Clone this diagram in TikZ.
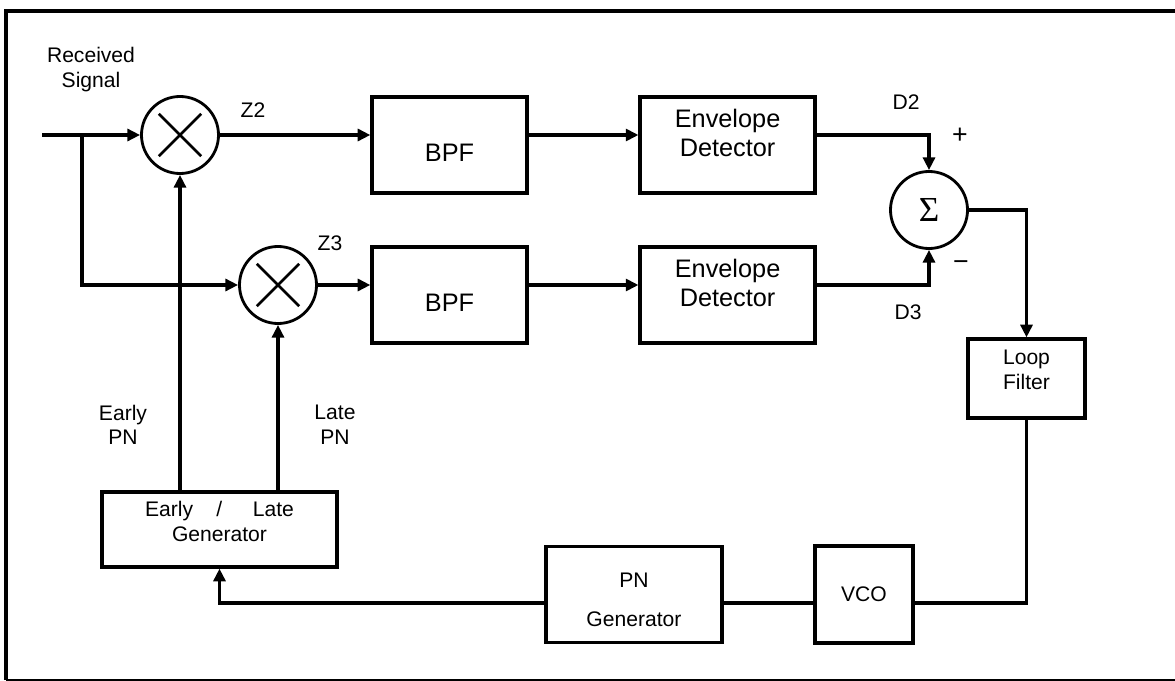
\documentclass[tikz,border=0pt]{standalone}
\usepackage{fontspec}
\setmainfont{Liberation Sans}
\newfontfamily\sigmafont{Liberation Serif}
\usepackage{tikz}
\usetikzlibrary{arrows.meta,shapes,positioning}
\tikzstyle{arrow} = [line width=2.2pt,->,>={Triangle[length=9pt,width=8.5pt]}]
\tikzstyle{wire} = [line width=2.2pt]
\tikzstyle{block} = [rectangle, draw, line width=2.3pt, align=center, font=\fontsize{15}{18}\selectfont]
\tikzstyle{bigblock} = [block, minimum width=3.875cm, minimum height=2.4cm, font=\fontsize{18}{21}\selectfont]
\tikzstyle{summer} = [circle, draw, line width=2pt, minimum size=1.925cm, inner sep=0pt]
\tikzstyle{mixer} = [summer, path picture={
  \draw[line width=1.8pt] (path picture bounding box.center) ++(-0.53cm,-0.53cm) -- ++(1.06cm,1.06cm)
    (path picture bounding box.center) ++(-0.53cm,0.53cm) -- ++(1.06cm,-1.06cm);}]
\tikzstyle{lbl} = [align=center, inner sep=0pt, font=\fontsize{15}{17.5}\selectfont]
\tikzstyle{sign} = [inner sep=0pt, font=\fontsize{19}{20}\selectfont]

\begin{document}
\begin{tikzpicture}[x=0.025cm, y=-0.025cm]
\useasboundingbox (0,0) rectangle (1175,681);
% frame
\draw[line width=3.5pt] (6,680) -- (6,11) -- (1175,11);
\draw[line width=1.5pt] (6,680) -- (1175,680);

% correlator arms
\node (m1) [mixer] at (180,135) {};
\node (m2) [mixer] at (278,285) {};
\node (bpf1) [bigblock, text height=0.8cm] at (449.5,145) {BPF};
\node (bpf2) [bigblock, text height=0.8cm, below of=bpf1, node distance=3.75cm] {BPF};
\node (ed1) [bigblock, minimum width=4.375cm, text depth=0.6cm, right of=bpf1, node distance=6.95cm] {Envelope\\Detector};
\node (ed2) [bigblock, minimum width=4.375cm, text depth=0.6cm, below of=ed1, node distance=3.75cm] {Envelope\\Detector};
\node (sig) [summer] at (929,210) {\sigmafont\fontsize{25}{26}\selectfont Σ};

% loop
\node (lf) [block, minimum width=2.925cm, minimum height=1.975cm, text depth=0.45cm] at (1026.5,378.5) {Loop\\Filter};
\node (vco) [block, minimum width=2.45cm, minimum height=2.425cm] at (864,594.5) {VCO};
\node (pngen) [block, minimum width=4.4cm, minimum height=2.4cm, text height=1.62cm, left of=vco, node distance=5.75cm] {PN\\[10pt]Generator};
\node (elg) [block, minimum width=5.875cm, minimum height=1.875cm, text depth=0.4cm] at (219.5,529.5) {Early\hspace{1.1em}/\hspace{1.45em}Late\\Generator};

% labels
\node (rxlbl) [lbl] at (91,69.5) {Received\\Signal};
\node (z2) [lbl] at (253,110) {Z2};
\node (z3) [lbl] at (330,243) {Z3};
\node (d2) [lbl] at (906,102) {D2};
\node (d3) [lbl] at (908,312) {D3};
\node (plus) [sign] at (960,136) {+};
\node (minus) [sign] at (961,266) {−};
\node (earlylbl) [lbl] at (123,425) {Early\\PN};
\node (latelbl) [lbl] at (335,425) {Late\\PN};

% connections
\coordinate (in) at (42,135);
\coordinate (split) at (82,135);
\coordinate (fb) at (1027,603);
\draw[arrow] (in) -- (m1);
\draw[arrow] (split) |- (m2);
\draw[arrow] (m1) -- (m1 -| bpf1.west);
\draw[arrow] (m1 -| bpf1.east) -- (m1 -| ed1.west);
\draw[arrow] (m1 -| ed1.east) -| (sig);
\draw[arrow] (m2) -- (m2 -| bpf2.west);
\draw[arrow] (m2 -| bpf2.east) -- (m2 -| ed2.west);
\draw[arrow] (m2 -| ed2.east) -| (sig);
\draw[arrow] (sig) -| (lf);
\draw[wire] (lf) |- (vco.east |- fb);
\draw[wire] (vco.west |- fb) -- (pngen.east |- fb);
\draw[arrow] (pngen.west |- fb) -| (elg);
\draw[arrow] (m1 |- elg.north) -- (m1);
\draw[arrow] (m2 |- elg.north) -- (m2);
\end{tikzpicture}
\end{document}
